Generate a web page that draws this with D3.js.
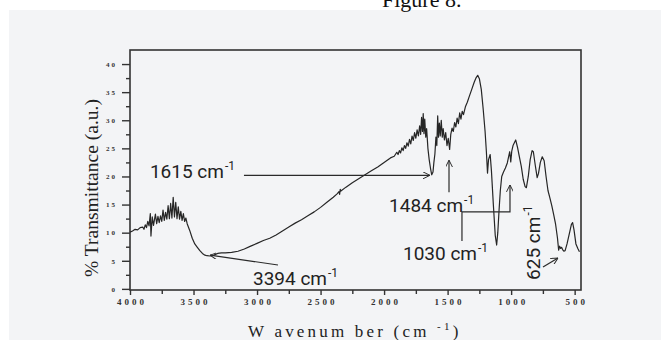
<!DOCTYPE html>
<html><head><meta charset="utf-8">
<script src="https://cdn.jsdelivr.net/npm/d3@7"></script>
<style>body{margin:0;background:#fff;} svg{display:block;}</style>
</head><body>
<script>
// ---- data ----
const wavenumber = [4000,3980,3960,3940,3920,3900,3890,3880,3870,3860,3850,3840,3835,3825,3815,3800,3790,3780,3770,3760,3750,3740,3730,3720,3710,3700,3690,3680,3670,3660,3650,3640,3630,3620,3610,3600,3590,3580,3570,3560,3550,3530,3510,3490,3470,3450,3430,3410,3394,3370,3340,3310,3280,3250,3200,3150,3100,3050,3000,2950,2900,2850,2800,2750,2700,2650,2600,2550,2500,2450,2400,2370,2355,2350,2345,2340,2300,2250,2200,2150,2100,2050,2000,1950,1920,1900,1890,1880,1870,1860,1850,1840,1830,1820,1810,1800,1790,1780,1770,1760,1750,1740,1730,1720,1712,1705,1698,1692,1686,1680,1672,1665,1655,1645,1635,1625,1615,1608,1600,1592,1585,1578,1572,1565,1558,1550,1542,1535,1525,1515,1505,1495,1484,1475,1465,1455,1445,1435,1425,1415,1405,1395,1385,1375,1360,1345,1330,1310,1290,1275,1263,1250,1235,1220,1205,1195,1186,1178,1165,1155,1140,1125,1114,1105,1095,1085,1074,1060,1045,1030,1020,1011,1003,995,985,964,950,935,920,905,890,880,865,850,835,825,810,795,785,770,755,740,725,710,695,680,665,650,635,626,618,610,603,595,585,575,560,540,525,516,505,490,475,462];
const transmittance = [10.1,10.3,10.6,10.5,10.9,11.0,10.6,11.4,10.9,12.0,11.2,13.4,9.4,12.8,11.3,13.3,11.6,12.9,11.8,13.0,12.0,14.0,12.2,13.6,12.4,14.8,12.5,15.2,12.6,16.3,12.8,15.4,12.5,14.6,12.4,13.8,12.2,13.4,12.0,12.6,11.6,10.4,9.0,8.0,7.4,6.8,6.3,6.0,5.9,5.85,6.0,6.3,6.4,6.4,6.5,6.7,7.1,7.6,8.1,8.6,9.0,9.6,10.3,11.0,11.7,12.3,13.0,13.7,14.5,15.4,16.3,16.9,17.3,16.8,17.7,17.4,18.1,18.9,19.6,20.3,21.0,21.7,22.5,23.3,23.6,24.3,23.9,24.6,24.2,25.1,24.6,25.5,25.0,26.0,25.4,26.6,25.8,27.2,26.4,27.8,26.8,28.3,27.2,29.0,27.5,30.5,28.0,31.2,27.6,30.2,27.0,28.5,25.0,23.0,21.5,20.3,20.8,22.5,24.0,27.0,25.5,30.8,27.0,29.5,27.2,30.0,27.0,28.5,26.5,27.8,25.5,26.8,24.8,27.5,28.6,28.0,29.6,28.8,30.4,29.4,31.3,30.2,31.6,31.0,32.4,33.2,34.2,35.5,36.8,37.6,38.0,37.4,35.5,32.0,28.0,24.5,20.6,23.0,23.9,21.0,15.0,9.5,7.8,10.0,14.0,17.5,20.0,20.8,21.5,22.4,23.5,24.4,22.6,24.5,25.5,26.5,25.2,23.5,21.8,19.5,18.2,18.0,20.0,23.0,24.6,24.4,22.0,19.8,20.5,22.5,23.5,22.8,20.0,17.5,16.2,14.8,13.2,11.5,9.0,6.9,7.6,7.2,7.4,7.0,6.7,6.8,8.0,10.0,11.5,11.8,10.5,8.0,7.2,6.6];
const xTicks = [4000,3500,3000,2500,2000,1500,1000,500];
const xMinorTicks = [3750,3250,2750,2250,1750,1250,750];
const yTicks = [0,5,10,15,20,25,30,35,40];
const yMinorTicks = [2.5,7.5,12.5,17.5,22.5,27.5,32.5,37.5];
// annotations in data coordinates
const annLabels = [
  {text:"1615 cm", wn:3843, t:19.7, rot:false},
  {text:"1484 cm", wn:1961, t:13.7, rot:false},
  {text:"1030 cm", wn:1851, t:5.1, rot:false},
  {text:"3394 cm", wn:3032, t:0.7, rot:false},
  {text:"625 cm", wn:773, t:1.6, rot:true}
];
const annArrows = [
  [[3103,20.2],[1639,20.2]],
  [[1489,17.2],[1489,22.9]],
  [[1387,8.5],[1387,13.7],[1009,13.7],[1009,18.5]],
  [[749,3.9],[631,5.5]],
  [[2835,4.25],[3370,6.0]]
];

const W = 661, H = 340;
const svg = d3.select("body").append("svg").attr("width",W).attr("height",H);
svg.append("rect").attr("x",9).attr("y",10).attr("width",W-9).attr("height",H-10).attr("fill","#f3f4f6");
svg.append("text").attr("x",382).attr("y",7).attr("font-family","Liberation Serif, serif")
  .attr("font-size",22).attr("fill","#111").text("Figure 8.");

const L=130, R=581, T=50, B=290;
const x = d3.scaleLinear().domain([4000,450]).range([L,R]);
const y = d3.scaleLinear().domain([-0.2,42.5]).range([B,T]);

// frame
svg.append("rect").attr("x",L).attr("y",T).attr("width",R-L).attr("height",B-T)
  .attr("fill","none").attr("stroke","#333").attr("stroke-width",1.6);

const tickFont = "Liberation Serif, serif";
// x axis
const gx = svg.append("g").attr("transform",`translate(0,${B})`)
  .call(d3.axisBottom(x).tickValues(xTicks).tickSize(5).tickPadding(4).tickFormat(d3.format("d")));
gx.select(".domain").remove();
gx.selectAll("line").attr("stroke","#333").attr("stroke-width",1.4);
gx.selectAll("text").attr("font-family",tickFont).attr("font-size",9).attr("font-weight","bold")
  .attr("letter-spacing","3px").attr("fill","#333").attr("dx","1.5");
const gxm = svg.append("g").attr("transform",`translate(0,${B})`)
  .call(d3.axisBottom(x).tickValues(xMinorTicks).tickSize(4).tickFormat(""));
gxm.select(".domain").remove();
gxm.selectAll("line").attr("stroke","#333").attr("stroke-width",1.4);

// y axis
const gy = svg.append("g").attr("transform",`translate(${L},0)`)
  .call(d3.axisLeft(y).tickValues(yTicks).tickSize(8).tickPadding(5).tickFormat(d3.format("d")));
gy.select(".domain").remove();
gy.selectAll("line").attr("stroke","#333").attr("stroke-width",1.4);
gy.selectAll("text").attr("font-family",tickFont).attr("font-size",7).attr("font-weight","bold")
  .attr("letter-spacing","2px").attr("fill","#333");
const gym = svg.append("g").attr("transform",`translate(${L},0)`)
  .call(d3.axisLeft(y).tickValues(yMinorTicks).tickSize(4).tickFormat(""));
gym.select(".domain").remove();
gym.selectAll("line").attr("stroke","#333").attr("stroke-width",1.4);

// axis titles
svg.append("text").attr("transform","translate(98,188) rotate(-90)").attr("text-anchor","middle")
  .attr("font-family","Liberation Serif, serif").attr("font-size",18).attr("fill","#222")
  .attr("textLength",178).attr("lengthAdjust","spacingAndGlyphs")
  .text("% Transmittance (a.u.)");
const xt = svg.append("text").attr("x",248).attr("y",337).attr("font-family","Liberation Serif, serif")
  .attr("font-size",17).attr("letter-spacing","3.2px").attr("fill","#222");
xt.append("tspan").text("W avenum ber (cm ");
xt.append("tspan").attr("dy",-7).attr("font-size",11).text("-1");
xt.append("tspan").attr("dy",7).text(")");

// spectrum
const data = wavenumber.map((w,i)=>[w,transmittance[i]]);
svg.append("path").datum(data)
  .attr("d", d3.line().x(d=>x(d[0])).y(d=>y(d[1])))
  .attr("fill","none").attr("stroke","#262626").attr("stroke-width",1.2).attr("stroke-linejoin","round");

// arrows
svg.append("defs").append("marker").attr("id","ah").attr("viewBox","0 0 10 10")
  .attr("refX",10).attr("refY",5).attr("markerWidth",7).attr("markerHeight",7)
  .attr("markerUnits","userSpaceOnUse").attr("orient","auto")
  .append("path").attr("d","M0,0 L10,5 L0,10").attr("fill","none").attr("stroke","#2a2a2a").attr("stroke-width",1.4);
svg.selectAll(".ann").data(annArrows).join("path").attr("class","ann")
  .attr("d", d3.line().x(d=>x(d[0])).y(d=>y(d[1])))
  .attr("fill","none").attr("stroke","#2a2a2a").attr("stroke-width",1.2).attr("marker-end","url(#ah)");

// labels
annLabels.forEach(a=>{
  const t = svg.append("text").attr("font-family","Roboto, 'Open Sans', sans-serif")
    .attr("font-size",19).attr("fill","#222");
  if(a.rot) t.attr("transform",`translate(${x(a.wn)},${y(a.t)}) rotate(-90)`);
  else t.attr("x",x(a.wn)).attr("y",y(a.t));
  t.append("tspan").text(a.text);
  t.append("tspan").attr("dx",1).attr("dy",-8).attr("font-size",12).text("-1");
});
</script>
</body></html>
